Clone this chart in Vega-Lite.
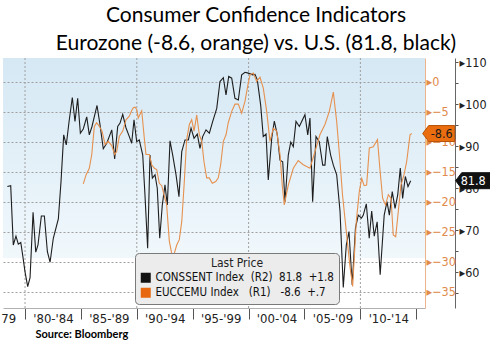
{
  "$schema": "https://vega.github.io/schema/vega-lite/v6.json",
  "width": 422,
  "height": 250,
  "autosize": {"type": "none"},
  "padding": {"left": 3, "top": 58, "right": 65, "bottom": 36},
  "background": "white",
  "view": {
    "stroke": null,
    "fill": {"gradient": "linear", "x1": 0, "y1": 0, "x2": 0, "y2": 1,
      "stops": [
        {"offset": 0, "color": "#d5e8f4"},
        {"offset": 0.8, "color": "#f1f8fc"},
        {"offset": 0.8, "color": "#ffffff"},
        {"offset": 1, "color": "#ffffff"}
      ]}
  },
  "title": {
    "text": ["Consumer Confidence Indicators", "Eurozone (-8.6, orange) vs. U.S. (81.8, black)"],
    "font": "Lato",
    "fontSize": 21,
    "fontWeight": "normal",
    "color": "#000000",
    "lineHeight": 28,
    "anchor": "middle",
    "frame": "group",
    "dx": 42,
    "offset": 2
  },
  "datasets": {
    "us": [
      {"s":"US","t":1978.42,"v":80.4},{"s":"US","t":1978.72,"v":80.6},{"s":"US","t":1978.95,"v":66.5},{"s":"US","t":1979.19,"v":68.6},
      {"s":"US","t":1979.40,"v":66.7},{"s":"US","t":1979.62,"v":67.1},{"s":"US","t":1979.79,"v":64.1},{"s":"US","t":1980.00,"v":60.1},
      {"s":"US","t":1980.24,"v":56.6},{"s":"US","t":1980.45,"v":58.7},{"s":"US","t":1980.72,"v":74.3},{"s":"US","t":1980.96,"v":64.8},
      {"s":"US","t":1981.16,"v":66.5},{"s":"US","t":1981.46,"v":73.4},{"s":"US","t":1981.73,"v":73.4},{"s":"US","t":1982.00,"v":64.9},
      {"s":"US","t":1982.24,"v":62.4},{"s":"US","t":1982.53,"v":68.1},{"s":"US","t":1982.98,"v":72.7},{"s":"US","t":1983.22,"v":81.6},
      {"s":"US","t":1983.46,"v":92.7},{"s":"US","t":1983.69,"v":90.3},{"s":"US","t":1983.94,"v":95.9},{"s":"US","t":1984.23,"v":101.6},
      {"s":"US","t":1984.47,"v":95.9},{"s":"US","t":1984.71,"v":101.4},{"s":"US","t":1984.95,"v":93.1},{"s":"US","t":1985.21,"v":94.1},
      {"s":"US","t":1985.52,"v":97.0},{"s":"US","t":1985.75,"v":92.7},{"s":"US","t":1985.99,"v":94.7},{"s":"US","t":1986.44,"v":99.7},
      {"s":"US","t":1986.71,"v":95.1},{"s":"US","t":1987.00,"v":89.4},{"s":"US","t":1987.31,"v":90.7},{"s":"US","t":1987.76,"v":93.9},
      {"s":"US","t":1988.02,"v":87.0},{"s":"US","t":1988.29,"v":94.7},{"s":"US","t":1988.50,"v":95.5},{"s":"US","t":1988.74,"v":97.6},
      {"s":"US","t":1989.03,"v":94.4},{"s":"US","t":1989.33,"v":92.3},{"s":"US","t":1989.54,"v":90.7},{"s":"US","t":1989.75,"v":96.3},
      {"s":"US","t":1989.99,"v":91.1},{"s":"US","t":1990.22,"v":91.5},{"s":"US","t":1990.53,"v":87.9},{"s":"US","t":1990.73,"v":78.4},
      {"s":"US","t":1990.97,"v":65.7},{"s":"US","t":1991.18,"v":87.9},{"s":"US","t":1991.39,"v":82.4},{"s":"US","t":1991.63,"v":83.2},
      {"s":"US","t":1991.83,"v":80.0},{"s":"US","t":1992.05,"v":68.1},{"s":"US","t":1992.28,"v":76.0},{"s":"US","t":1992.52,"v":80.8},
      {"s":"US","t":1992.73,"v":76.0},{"s":"US","t":1992.97,"v":91.3},{"s":"US","t":1993.21,"v":87.9},{"s":"US","t":1993.51,"v":83.2},
      {"s":"US","t":1993.77,"v":78.0},{"s":"US","t":1994.02,"v":88.7},{"s":"US","t":1994.31,"v":91.5},{"s":"US","t":1994.61,"v":91.5},
      {"s":"US","t":1994.85,"v":94.3},{"s":"US","t":1995.12,"v":91.9},{"s":"US","t":1995.41,"v":92.9},{"s":"US","t":1995.65,"v":89.5},
      {"s":"US","t":1995.89,"v":92.3},{"s":"US","t":1996.19,"v":93.9},{"s":"US","t":1996.49,"v":93.1},{"s":"US","t":1996.79,"v":95.9},
      {"s":"US","t":1997.15,"v":99.0},{"s":"US","t":1997.44,"v":105.4},{"s":"US","t":1997.74,"v":106.3},{"s":"US","t":1997.98,"v":102.2},
      {"s":"US","t":1998.22,"v":106.6},{"s":"US","t":1998.49,"v":106.2},{"s":"US","t":1998.78,"v":101.4},{"s":"US","t":1999.08,"v":101.0},
      {"s":"US","t":1999.38,"v":107.0},{"s":"US","t":1999.68,"v":107.6},{"s":"US","t":1999.97,"v":107.4},{"s":"US","t":2000.37,"v":107.0},
      {"s":"US","t":2000.57,"v":107.1},{"s":"US","t":2000.78,"v":105.8},{"s":"US","t":2001.08,"v":99.8},{"s":"US","t":2001.31,"v":92.3},
      {"s":"US","t":2001.56,"v":92.9},{"s":"US","t":2001.76,"v":82.0},{"s":"US","t":2002.07,"v":91.9},{"s":"US","t":2002.30,"v":96.0},
      {"s":"US","t":2002.57,"v":92.7},{"s":"US","t":2002.81,"v":86.7},{"s":"US","t":2003.05,"v":86.3},{"s":"US","t":2003.26,"v":76.8},
      {"s":"US","t":2003.55,"v":87.9},{"s":"US","t":2003.77,"v":91.0},{"s":"US","t":2004.00,"v":89.9},{"s":"US","t":2004.24,"v":95.9},
      {"s":"US","t":2004.54,"v":94.7},{"s":"US","t":2004.75,"v":95.9},{"s":"US","t":2005.04,"v":97.5},{"s":"US","t":2005.29,"v":92.7},
      {"s":"US","t":2005.49,"v":96.7},{"s":"US","t":2005.73,"v":76.8},{"s":"US","t":2006.03,"v":92.3},{"s":"US","t":2006.32,"v":91.1},
      {"s":"US","t":2006.63,"v":85.5},{"s":"US","t":2006.83,"v":85.5},{"s":"US","t":2007.04,"v":92.3},{"s":"US","t":2007.34,"v":87.9},
      {"s":"US","t":2007.58,"v":85.5},{"s":"US","t":2007.88,"v":83.2},{"s":"US","t":2008.18,"v":74.5},{"s":"US","t":2008.47,"v":56.4},
      {"s":"US","t":2008.74,"v":66.5},{"s":"US","t":2008.98,"v":69.7},{"s":"US","t":2009.27,"v":57.0},{"s":"US","t":2009.56,"v":70.5},
      {"s":"US","t":2009.81,"v":73.6},{"s":"US","t":2010.10,"v":72.9},{"s":"US","t":2010.26,"v":73.6},{"s":"US","t":2010.53,"v":76.3},
      {"s":"US","t":2010.79,"v":68.1},{"s":"US","t":2011.01,"v":74.6},{"s":"US","t":2011.24,"v":68.6},{"s":"US","t":2011.50,"v":72.0},
      {"s":"US","t":2011.77,"v":59.4},{"s":"US","t":2012.13,"v":73.6},{"s":"US","t":2012.38,"v":76.8},{"s":"US","t":2012.59,"v":73.6},
      {"s":"US","t":2012.85,"v":79.2},{"s":"US","t":2013.10,"v":75.2},{"s":"US","t":2013.34,"v":78.4},{"s":"US","t":2013.57,"v":84.8},
      {"s":"US","t":2013.78,"v":77.6},{"s":"US","t":2014.02,"v":82.8},{"s":"US","t":2014.26,"v":80.4},{"s":"US","t":2014.50,"v":81.8}
    ],
    "ez": [
      {"s":"EZ","t":1985.21,"v":-17.0},{"s":"EZ","t":1985.46,"v":-15.5},{"s":"EZ","t":1985.75,"v":-14.4},{"s":"EZ","t":1985.97,"v":-12.1},
      {"s":"EZ","t":1986.20,"v":-7.4},{"s":"EZ","t":1986.41,"v":-6.8},{"s":"EZ","t":1986.65,"v":-7.4},{"s":"EZ","t":1986.89,"v":-8.2},
      {"s":"EZ","t":1987.16,"v":-10.4},{"s":"EZ","t":1987.45,"v":-9.9},{"s":"EZ","t":1987.76,"v":-10.6},{"s":"EZ","t":1988.02,"v":-12.1},
      {"s":"EZ","t":1988.20,"v":-11.6},{"s":"EZ","t":1988.43,"v":-9.1},{"s":"EZ","t":1988.74,"v":-8.2},{"s":"EZ","t":1989.03,"v":-6.3},
      {"s":"EZ","t":1989.33,"v":-5.7},{"s":"EZ","t":1989.53,"v":-4.8},{"s":"EZ","t":1989.69,"v":-4.3},{"s":"EZ","t":1989.84,"v":-4.2},
      {"s":"EZ","t":1989.99,"v":-4.6},{"s":"EZ","t":1990.13,"v":-6.0},{"s":"EZ","t":1990.44,"v":-4.8},{"s":"EZ","t":1990.64,"v":-8.8},
      {"s":"EZ","t":1990.82,"v":-12.1},{"s":"EZ","t":1991.12,"v":-12.1},{"s":"EZ","t":1991.33,"v":-13.8},{"s":"EZ","t":1991.57,"v":-14.4},
      {"s":"EZ","t":1991.78,"v":-14.6},{"s":"EZ","t":1992.01,"v":-16.9},{"s":"EZ","t":1992.23,"v":-17.3},{"s":"EZ","t":1992.43,"v":-18.8},
      {"s":"EZ","t":1992.67,"v":-20.5},{"s":"EZ","t":1992.91,"v":-26.6},{"s":"EZ","t":1993.12,"v":-28.6},{"s":"EZ","t":1993.35,"v":-28.6},
      {"s":"EZ","t":1993.57,"v":-27.2},{"s":"EZ","t":1993.80,"v":-26.3},{"s":"EZ","t":1994.02,"v":-23.3},{"s":"EZ","t":1994.25,"v":-16.6},
      {"s":"EZ","t":1994.46,"v":-9.6},{"s":"EZ","t":1994.70,"v":-7.1},{"s":"EZ","t":1994.91,"v":-6.3},{"s":"EZ","t":1995.12,"v":-8.2},
      {"s":"EZ","t":1995.36,"v":-5.5},{"s":"EZ","t":1995.59,"v":-8.8},{"s":"EZ","t":1995.81,"v":-9.9},{"s":"EZ","t":1996.01,"v":-13.3},
      {"s":"EZ","t":1996.25,"v":-16.0},{"s":"EZ","t":1996.48,"v":-16.0},{"s":"EZ","t":1996.75,"v":-16.9},{"s":"EZ","t":1997.06,"v":-16.6},
      {"s":"EZ","t":1997.29,"v":-16.0},{"s":"EZ","t":1997.50,"v":-13.8},{"s":"EZ","t":1997.74,"v":-9.9},{"s":"EZ","t":1997.98,"v":-8.8},
      {"s":"EZ","t":1998.18,"v":-6.8},{"s":"EZ","t":1998.49,"v":-4.9},{"s":"EZ","t":1998.78,"v":-3.7},{"s":"EZ","t":1999.08,"v":-3.7},
      {"s":"EZ","t":1999.38,"v":-5.2},{"s":"EZ","t":1999.68,"v":-3.2},{"s":"EZ","t":1999.97,"v":-0.2},{"s":"EZ","t":2000.13,"v":1.2},
      {"s":"EZ","t":2000.42,"v":1.5},{"s":"EZ","t":2000.72,"v":0.1},{"s":"EZ","t":2001.02,"v":0.8},{"s":"EZ","t":2001.31,"v":-1.0},
      {"s":"EZ","t":2001.62,"v":-4.9},{"s":"EZ","t":2001.91,"v":-9.9},{"s":"EZ","t":2002.21,"v":-7.7},{"s":"EZ","t":2002.51,"v":-8.2},
      {"s":"EZ","t":2002.81,"v":-12.1},{"s":"EZ","t":2003.01,"v":-17.2},{"s":"EZ","t":2003.19,"v":-20.5},{"s":"EZ","t":2003.55,"v":-17.2},
      {"s":"EZ","t":2004.00,"v":-14.4},{"s":"EZ","t":2004.44,"v":-13.1},{"s":"EZ","t":2004.89,"v":-13.8},{"s":"EZ","t":2005.49,"v":-14.4},
      {"s":"EZ","t":2005.94,"v":-11.6},{"s":"EZ","t":2006.38,"v":-8.8},{"s":"EZ","t":2006.83,"v":-7.1},{"s":"EZ","t":2007.22,"v":-4.9},
      {"s":"EZ","t":2007.58,"v":-1.7},{"s":"EZ","t":2007.88,"v":-6.6},{"s":"EZ","t":2008.18,"v":-13.3},{"s":"EZ","t":2008.40,"v":-18.8},
      {"s":"EZ","t":2008.77,"v":-25.5},{"s":"EZ","t":2009.07,"v":-30.8},{"s":"EZ","t":2009.31,"v":-34.1},{"s":"EZ","t":2009.63,"v":-23.3},
      {"s":"EZ","t":2009.90,"v":-18.3},{"s":"EZ","t":2010.12,"v":-16.1},{"s":"EZ","t":2010.34,"v":-17.3},{"s":"EZ","t":2010.56,"v":-17.2},
      {"s":"EZ","t":2010.80,"v":-11.0},{"s":"EZ","t":2011.15,"v":-10.8},{"s":"EZ","t":2011.53,"v":-9.6},{"s":"EZ","t":2011.75,"v":-14.6},
      {"s":"EZ","t":2011.99,"v":-19.4},{"s":"EZ","t":2012.25,"v":-20.5},{"s":"EZ","t":2012.50,"v":-18.8},{"s":"EZ","t":2012.74,"v":-19.4},
      {"s":"EZ","t":2012.94,"v":-25.5},{"s":"EZ","t":2013.16,"v":-25.8},{"s":"EZ","t":2013.39,"v":-21.6},{"s":"EZ","t":2013.63,"v":-17.2},
      {"s":"EZ","t":2013.90,"v":-15.5},{"s":"EZ","t":2014.14,"v":-13.3},{"s":"EZ","t":2014.44,"v":-8.8},{"s":"EZ","t":2014.59,"v":-8.6}
    ],
    "decades": [{"t": 1980}, {"t": 1990}, {"t": 2000}, {"t": 2010}],
    "usTag": [{"t": 2014.50, "v": 81.8, "label": "81.8"}],
    "ezTag": [{"t": 2014.59, "v": -8.6, "label": "-8.6"}]
  },
  "layer": [
    {
      "data": {"name": "decades"},
      "mark": {"type": "rule", "color": "#a0a0a0", "strokeDash": [2, 2], "strokeWidth": 1},
      "encoding": {
        "x": {
          "field": "t", "type": "quantitative",
          "scale": {"domain": [1978.03, 2015.78], "nice": false, "zero": false},
          "axis": {
            "orient": "bottom",
            "values": [1980, 1985, 1990, 1995, 2000, 2005, 2010, 2015],
            "labels": false,
            "ticks": true,
            "tickSize": 11,
            "tickColor": "#555555",
            "domainColor": "#b0b0b0",
            "grid": false,
            "title": null
          }
        }
      }
    },
    {
      "data": {"name": "us"},
      "mark": {"type": "line", "strokeWidth": 1.1},
      "encoding": {
        "x": {"field": "t", "type": "quantitative", "scale": {"domain": [1978.03, 2015.78], "nice": false, "zero": false}, "axis": null},
        "y": {
          "field": "v", "type": "quantitative",
          "scale": {"domain": [51.5, 111], "nice": false, "zero": false},
          "axis": {
            "orient": "right",
            "offset": 30,
            "values": [55, 60, 65, 70, 75, 80, 85, 90, 95, 100, 105, 110],
            "labelExpr": "datum.value % 10 == 0 ? '▸' + datum.label : ''",
            "labelOverlap": false,
            "labelBound": false,
            "labelFlush": false,
            "tickSize": 3,
            "tickColor": "#555555",
            "domain": true,
            "domainColor": "#666666",
            "labelColor": "#222222",
            "labelFont": "DejaVu Sans Condensed, Liberation Sans Narrow, DejaVu Sans",
            "labelFontSize": 12.5,
            "labelPadding": 1,
            "grid": false,
            "title": null
          }
        },
        "color": {
          "field": "s", "type": "nominal",
          "scale": {"domain": ["US", "EZ"], "range": ["#1e1e1e", "#e6914f"]},
          "legend": {
            "orient": "none",
            "legendX": 132,
            "legendY": 195,
            "title": "Last Price",
            "titleAnchor": "middle",
            "titleFont": "DejaVu Sans Condensed, Liberation Sans Narrow, DejaVu Sans",
            "titleFontSize": 12,
            "titleFontWeight": "normal",
            "titleColor": "#222222",
            "titlePadding": 2,
            "labelFont": "DejaVu Sans Condensed, Liberation Sans Narrow, DejaVu Sans",
            "labelFontSize": 11.5,
            "labelColor": "#111111",
            "labelLimit": 400,
            "labelExpr": "datum.label == 'US' ? 'CONSSENT Index\u00a0\u00a0(R2)\u00a0\u00a081.8\u00a0\u00a0+1.8' : 'EUCCEMU Index\u00a0\u00a0\u00a0(R1)\u00a0\u00a0\u00a0-8.6\u00a0\u00a0+.7'",
            "symbolType": "square",
            "symbolSize": 100,
            "symbolStrokeWidth": 0,
            "fillColor": "#ececec",
            "strokeColor": "#7a7a7a",
            "cornerRadius": 4,
            "padding": 5,
            "rowPadding": 2,
            "encode": {"symbols": {"update": {"fill": {"signal": "datum.value == 'EZ' ? '#e8680f' : '#111111'"}, "strokeWidth": {"value": 0}}}}
          }
        }
      }
    },
    {
      "data": {"name": "usTag"},
      "mark": {"type": "point", "shape": "M45,0L51,-8L90,-8L90,8L51,8Z", "size": 4, "filled": true, "fill": "#111111", "stroke": "#111111", "strokeWidth": 1, "opacity": 1},
      "encoding": {
        "x": {"field": "t", "type": "quantitative", "scale": {"domain": [1978.03, 2015.78], "nice": false, "zero": false}, "axis": null},
        "y": {"field": "v", "type": "quantitative", "scale": {"domain": [51.5, 111], "nice": false, "zero": false}, "axis": null}
      }
    },
    {
      "data": {"name": "usTag"},
      "mark": {"type": "text", "dx": 50, "align": "left", "baseline": "middle", "color": "#ffffff", "font": "DejaVu Sans Condensed, Liberation Sans Narrow, DejaVu Sans", "fontSize": 12.5},
      "encoding": {
        "x": {"field": "t", "type": "quantitative", "scale": {"domain": [1978.03, 2015.78], "nice": false, "zero": false}, "axis": null},
        "y": {"field": "v", "type": "quantitative", "scale": {"domain": [51.5, 111], "nice": false, "zero": false}, "axis": null},
        "text": {"field": "label"}
      }
    },
    {
      "data": {"name": "ez"},
      "mark": {"type": "line", "strokeWidth": 1.1},
      "encoding": {
        "x": {
          "field": "t", "type": "quantitative",
          "scale": {"domain": [1978.03, 2015.78], "nice": false, "zero": false},
          "axis": {
            "orient": "bottom",
            "values": [1978.5, 1982.5, 1987.5, 1992.5, 1997.5, 2002.5, 2007.5, 2012.5],
            "labelExpr": "datum.value < 1980 ? '79' : \"'\" + format(floor(datum.value - 2.5) % 100, '02d') + \"-'\" + format((floor(datum.value - 2.5) + 4) % 100, '02d')",
            "ticks": false,
            "domain": false,
            "grid": false,
            "labelFont": "DejaVu Sans Condensed, Liberation Sans Narrow, DejaVu Sans",
            "labelFontSize": 13,
            "labelColor": "#222222",
            "labelPadding": 4,
            "labelFlush": false,
            "labelOverlap": false,
            "title": "Source:  Bloomberg",
            "titleFont": "Lato",
            "titleFontSize": 11,
            "titleFontWeight": "bold",
            "titleColor": "#000000",
            "titleAnchor": "start",
            "titleAlign": "left",
            "titleBaseline": "alphabetic",
            "titleX": 32,
            "titleY": 29
          }
        },
        "y": {
          "field": "v", "type": "quantitative",
          "scale": {"domain": [-37.7, 4.0], "nice": false, "zero": false},
          "axis": {
            "orient": "right",
            "offset": 0,
            "values": [-35, -30, -25, -20, -15, -10, -5, 0],
            "labelExpr": "'▸' + datum.label",
            "labelOverlap": false,
            "labelBound": false,
            "labelFlush": false,
            "ticks": false,
            "domainColor": "#ebb48c",
            "labelColor": "#e08a4c",
            "labelFont": "DejaVu Sans Condensed, Liberation Sans Narrow, DejaVu Sans",
            "labelFontSize": 12.5,
            "labelPadding": 1,
            "grid": true,
            "gridColor": "#a0a0a0",
            "gridDash": [2, 2],
            "title": null
          }
        },
        "color": {"field": "s", "type": "nominal", "scale": {"domain": ["US", "EZ"], "range": ["#1e1e1e", "#e6914f"]}}
      }
    },
    {
      "data": {"name": "ezTag"},
      "mark": {"type": "point", "shape": "M11,0L17,-8L43,-8L43,8L17,8Z", "size": 4, "filled": true, "fill": "#ea6d10", "stroke": "#b5520a", "strokeWidth": 1, "opacity": 1},
      "encoding": {
        "x": {"field": "t", "type": "quantitative", "scale": {"domain": [1978.03, 2015.78], "nice": false, "zero": false}, "axis": null},
        "y": {"field": "v", "type": "quantitative", "scale": {"domain": [-37.7, 4.0], "nice": false, "zero": false}, "axis": null}
      }
    },
    {
      "data": {"name": "ezTag"},
      "mark": {"type": "text", "dx": 30, "align": "center", "baseline": "middle", "color": "#1a1a1a", "font": "DejaVu Sans Condensed, Liberation Sans Narrow, DejaVu Sans", "fontSize": 12.5},
      "encoding": {
        "x": {"field": "t", "type": "quantitative", "scale": {"domain": [1978.03, 2015.78], "nice": false, "zero": false}, "axis": null},
        "y": {"field": "v", "type": "quantitative", "scale": {"domain": [-37.7, 4.0], "nice": false, "zero": false}, "axis": null},
        "text": {"field": "label"}
      }
    }
  ],
  "resolve": {"scale": {"y": "independent"}, "axis": {"x": "independent", "y": "independent"}}
}
